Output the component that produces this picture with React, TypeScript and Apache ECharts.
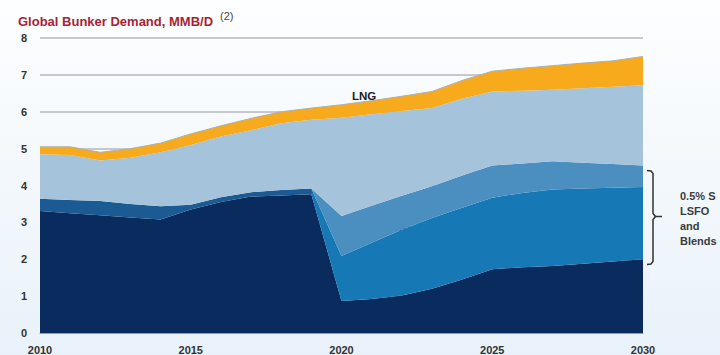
import React, { useEffect, useRef } from 'react';
import * as echarts from 'echarts';

const years = ['2010','2011','2012','2013','2014','2015','2016','2017','2018','2019','2020','2021','2022','2023','2024','2025','2026','2027','2028','2029','2030'];
const hsfo = [3.31,3.25,3.19,3.13,3.08,3.35,3.55,3.70,3.73,3.76,0.87,0.92,1.02,1.20,1.45,1.73,1.78,1.82,1.88,1.94,2.00];
const lsHfo = [0.33,0.36,0.39,0.37,0.36,0.13,0.13,0.12,0.15,0.16,1.22,1.53,1.78,1.92,1.95,1.94,2.02,2.07,2.04,2.00,1.96];
const distBlend = [0,0,0,0,0,0,0,0,0,0,1.08,1.00,0.92,0.86,0.87,0.87,0.80,0.77,0.70,0.64,0.58];
const distillates = [1.21,1.22,1.10,1.25,1.46,1.62,1.65,1.68,1.81,1.86,2.67,2.48,2.30,2.12,2.08,2.01,1.97,1.94,2.02,2.10,2.18];
const lng = [0.20,0.22,0.22,0.25,0.25,0.30,0.29,0.32,0.31,0.32,0.35,0.37,0.40,0.45,0.50,0.55,0.61,0.65,0.68,0.70,0.78];

const seriesNames = ['High Sulfur Residual Fuel Oil', 'LS HFO', 'Dist for  Blending', 'Distillates', 'LNG'];
const yTicks = [0, 1, 2, 3, 4, 5, 6, 7, 8];
const titleText = 'Global Bunker Demand, MMB/D';
const titleNote = '(2)';
const bracketLines = ['0.5% S', 'LSFO', 'and', 'Blends'];

const FONT = '"Liberation Sans", Arial, sans-serif';

export default function App() {
  const ref = useRef<HTMLDivElement>(null);
  useEffect(() => {
    const chart = echarts.init(ref.current as HTMLDivElement, null, { renderer: 'svg' });
    const dark = '#1b5a92';
    const bright = '#1679b5';
    const lsGradient = new echarts.graphic.LinearGradient(0, 0, 1, 0, [
      { offset: 0, color: dark },
      { offset: 0.45, color: dark },
      { offset: 0.4505, color: bright },
      { offset: 1, color: bright },
    ]);
    const colors = ['#0a2b5e', lsGradient, '#4b8fc1', '#a6c3dc', '#f6aa1c'];
    const data = [hsfo, lsHfo, distBlend, distillates, lng];
    const labelStyle = (text: string, x: number, y: number, fill: string) => ({
      type: 'text',
      x,
      y,
      silent: true,
      style: { text, fill, font: `bold 11.5px ${FONT}`, textAlign: 'left', textVerticalAlign: 'middle' },
    });
    chart.setOption({
      animation: false,
      grid: { left: 40, right: 77, top: 38, bottom: 21, containLabel: false },
      xAxis: {
        type: 'category',
        data: years,
        boundaryGap: false,
        axisLine: { show: true, lineStyle: { color: '#8d9bb0', width: 1 } },
        axisTick: { show: false },
        axisLabel: {
          interval: 4,
          margin: 11,
          color: '#333',
          fontWeight: 'bold',
          fontSize: 11,
          fontFamily: FONT,
        },
        splitLine: { show: false },
      },
      yAxis: {
        type: 'value',
        min: yTicks[0],
        max: yTicks[yTicks.length - 1],
        interval: 1,
        axisLine: { show: false },
        axisTick: { show: false },
        axisLabel: {
          margin: 13,
          color: '#333',
          fontWeight: 'bold',
          fontSize: 11,
          fontFamily: FONT,
        },
        splitLine: { show: true, lineStyle: { color: '#c6c8cc', width: 2 } },
      },
      series: seriesNames.map((name, i) => ({
        name,
        type: 'line',
        stack: 'total',
        data: data[i],
        symbol: 'none',
        smooth: false,
        lineStyle: i === 4 ? { width: 1, color: '#a9b0ba' } : { width: 0 },
        areaStyle: { color: colors[i], opacity: 1 },
        itemStyle: { color: typeof colors[i] === 'string' ? colors[i] : bright },
        z: 2,
      })),
      graphic: [
        {
          type: 'text',
          x: 18,
          y: 21,
          silent: true,
          style: {
            text: titleText,
            fill: '#a91f35',
            font: `bold 13px ${FONT}`,
            textAlign: 'left',
            textVerticalAlign: 'middle',
            shadowColor: 'rgba(0,0,0,0.35)',
            shadowBlur: 1,
            shadowOffsetX: 0.5,
            shadowOffsetY: 0.5,
          },
        },
        {
          type: 'text',
          x: 220,
          y: 16,
          silent: true,
          style: { text: titleNote, fill: '#444', font: `normal 11px ${FONT}`, textAlign: 'left', textVerticalAlign: 'middle' },
        },
        labelStyle(seriesNames[4], 352, 96, '#222'),
        labelStyle(seriesNames[3], 352, 173, '#1e2a3a'),
        labelStyle(seriesNames[2], 352, 229, '#1e2a3a'),
        labelStyle(seriesNames[1], 352, 274, '#ffffff'),
        labelStyle(seriesNames[0], 352, 320, '#ffffff'),
        {
          type: 'polyline',
          silent: true,
          shape: { points: [[647, 170.5], [651, 171], [653, 173.5], [653, 213.5], [655.5, 216.5]] },
          style: { stroke: '#333', lineWidth: 1.5, fill: null },
        },
        {
          type: 'polyline',
          silent: true,
          shape: { points: [[655.5, 216.5], [653, 219.5], [653, 261.5], [651, 264], [647, 264.5]] },
          style: { stroke: '#333', lineWidth: 1.5, fill: null },
        },
        {
          type: 'line',
          silent: true,
          shape: { x1: 655, y1: 216.5, x2: 662, y2: 216.5 },
          style: { stroke: '#333', lineWidth: 1.5 },
        },
        ...bracketLines.map((t, i) => ({
          type: 'text',
          x: 680,
          y: 196 + i * 15,
          silent: true,
          style: { text: t, fill: '#3c3c3c', font: `bold 11px ${FONT}`, textAlign: 'left', textVerticalAlign: 'middle' },
        })),
      ],
    });
    return () => chart.dispose();
  }, []);
  return (
    <div
      ref={ref}
      style={{
        position: 'fixed',
        left: 0,
        top: 0,
        width: 720,
        height: 355,
        background: 'linear-gradient(180deg, #fdfeff 0%, #f3f8fc 50%, #e9f2fa 100%)',
      }}
    />
  );
}
